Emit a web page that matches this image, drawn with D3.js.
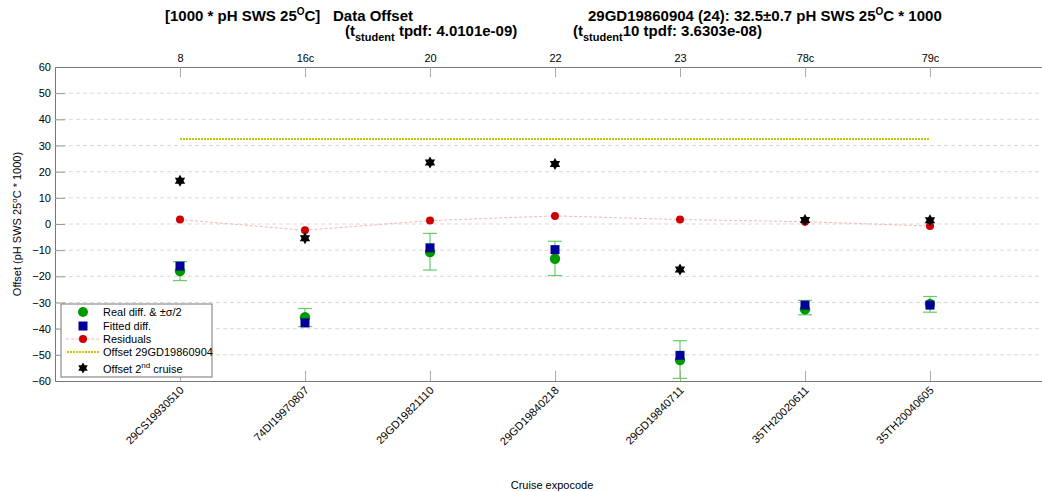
<!DOCTYPE html>
<meta charset="utf-8">
<style>
body { margin: 0; background: #fff; }
text { font-family: "Liberation Sans", Arial, sans-serif; fill: #000; }
.grid line { stroke: #d9d9d9; stroke-dasharray: 4,3; }
</style>
<svg width="1042" height="492"></svg>
<script src="https://d3js.org/d3.v7.min.js"></script>
<script>

var cruises = ["29CS19930510", "74DI19970807", "29GD19821110", "29GD19840218", "29GD19840711", "35TH20020611", "35TH20040605"];
var topLabels = ["8", "16c", "20", "22", "23", "78c", "79c"];
var realDiff = [-18, -35.6, -10.7, -13.3, -52, -32.6, -30.6];
var errLow = [-21.6, -39.2, -17.6, -19.7, -59, -34.7, -33.7];
var errHigh = [-14.4, -32.3, -3.6, -6.6, -44.6, -29.2, -27.7];
var fitted = [-16.1, -37.8, -9.1, -9.8, -50.2, -31, -31];
var residuals = [1.7, -2.4, 1.3, 3.1, 1.7, 0.9, -0.8];
var secondOffset = [16.5, -5.4, 23.5, 22.9, -17.4, 1.5, 1.4];
var offsetValue = 32.5;
var yTicks = [-60, -50, -40, -30, -20, -10, 0, 10, 20, 30, 40, 50, 60];

var svg = d3.select("svg");

var x = d3.scaleLinear().domain([0, 8]).range([55, 1055]);
var y = d3.scaleLinear().domain([-60, 60]).range([381, 67]);

var idx = d3.range(1, cruises.length + 1);

// grid
svg.append("g").attr("class", "grid")
  .selectAll("line")
  .data(yTicks.filter(function(d) { return d > -60 && d < 60; }))
  .enter().append("line")
    .attr("x1", x(0)).attr("x2", 1042)
    .attr("y1", function(d) { return y(d); })
    .attr("y2", function(d) { return y(d); });

// axes
var gl = svg.append("g").attr("transform", "translate(" + x(0) + ",0)")
  .call(d3.axisLeft(y).tickValues(yTicks).tickSizeInner(-10).tickSizeOuter(0).tickPadding(4));
gl.selectAll(".tick line").attr("stroke", "#999");
gl.selectAll("text").attr("font-size", 11).attr("x", -4);
gl.select(".domain").attr("stroke", "#777");

var gb = svg.append("g").attr("transform", "translate(0," + y(-60) + ")")
  .call(d3.axisBottom(x).tickValues(idx).tickSizeInner(-10).tickSizeOuter(0)
    .tickFormat(function(d) { return cruises[d - 1]; }));
gb.select(".domain").attr("stroke", "#777");
gb.selectAll(".tick line").attr("stroke", "#aaa");
gb.selectAll("text")
    .attr("font-size", 11)
    .attr("text-anchor", "end")
    .attr("y", 0).attr("dy", 0)
    .attr("transform", "translate(4,10) rotate(-45)");

var gt = svg.append("g").attr("transform", "translate(0," + y(60) + ")")
  .call(d3.axisTop(x).tickValues(idx).tickSizeInner(-10).tickSizeOuter(0).tickPadding(5)
    .tickFormat(function(d) { return topLabels[d - 1]; }));
gt.select(".domain").attr("stroke", "#777");
gt.selectAll(".tick line").attr("stroke", "#aaa");
gt.selectAll("text").attr("font-size", 11);

// offset line
svg.append("line")
    .attr("x1", x(1)).attr("x2", x(7))
    .attr("y1", y(offsetValue)).attr("y2", y(offsetValue))
    .attr("stroke", "#c8c800").attr("stroke-width", 2).attr("stroke-dasharray", "2,1");

// residual line
svg.append("path")
    .datum(residuals)
    .attr("fill", "none")
    .attr("stroke", "#f2b8b8")
    .attr("stroke-dasharray", "3,2")
    .attr("d", d3.line().x(function(d, i) { return x(i + 1); }).y(function(d) { return y(d); }));

// error bars
var eb = svg.append("g").selectAll("g").data(idx).enter().append("g")
    .attr("stroke", "#6c6").attr("stroke-width", 1.2);
eb.append("line")
    .attr("x1", function(d) { return x(d); }).attr("x2", function(d) { return x(d); })
    .attr("y1", function(d) { return y(errLow[d - 1]); })
    .attr("y2", function(d) { return y(errHigh[d - 1]); });
eb.append("line")
    .attr("x1", function(d) { return x(d) - 7; }).attr("x2", function(d) { return x(d) + 7; })
    .attr("y1", function(d) { return y(errLow[d - 1]); })
    .attr("y2", function(d) { return y(errLow[d - 1]); });
eb.append("line")
    .attr("x1", function(d) { return x(d) - 7; }).attr("x2", function(d) { return x(d) + 7; })
    .attr("y1", function(d) { return y(errHigh[d - 1]); })
    .attr("y2", function(d) { return y(errHigh[d - 1]); });

function hexagram(cx, cy, r) {
  var p1 = [], p2 = [];
  for (var k = 0; k < 3; k++) {
    var a1 = -Math.PI / 2 + k * 2 * Math.PI / 3;
    var a2 = Math.PI / 2 + k * 2 * Math.PI / 3;
    p1.push([cx + r * Math.cos(a1), cy + r * Math.sin(a1)]);
    p2.push([cx + r * Math.cos(a2), cy + r * Math.sin(a2)]);
  }
  return "M" + p1.join("L") + "Z M" + p2.join("L") + "Z";
}

// real diff
svg.append("g").selectAll("circle").data(realDiff).enter().append("circle")
    .attr("cx", function(d, i) { return x(i + 1); })
    .attr("cy", function(d) { return y(d); })
    .attr("r", 5.2).attr("fill", "#009900");

// fitted
svg.append("g").selectAll("rect").data(fitted).enter().append("rect")
    .attr("x", function(d, i) { return x(i + 1) - 4.5; })
    .attr("y", function(d) { return y(d) - 4.5; })
    .attr("width", 9).attr("height", 9).attr("fill", "#000099");

// residuals
svg.append("g").selectAll("circle").data(residuals).enter().append("circle")
    .attr("cx", function(d, i) { return x(i + 1); })
    .attr("cy", function(d) { return y(d); })
    .attr("r", 4).attr("fill", "#cc0000");

// second cruise offset
svg.append("g").selectAll("path").data(secondOffset).enter().append("path")
    .attr("d", function(d, i) { return hexagram(x(i + 1), y(d), 6); })
    .attr("fill", "#000");

// legend
var lg = svg.append("g").attr("transform", "translate(61,304)");
lg.append("rect").attr("width", 151).attr("height", 73)
    .attr("fill", "#fff").attr("stroke", "#777");
var ly = [8, 22, 35, 48, 64];
lg.append("circle").attr("cx", 22).attr("cy", ly[0]).attr("r", 5).attr("fill", "#009900");
lg.append("rect").attr("x", 17.5).attr("y", ly[1] - 4.5).attr("width", 9).attr("height", 9).attr("fill", "#000099");
lg.append("line").attr("x1", 5).attr("x2", 38).attr("y1", ly[2]).attr("y2", ly[2])
    .attr("stroke", "#f2b8b8").attr("stroke-dasharray", "3,2");
lg.append("circle").attr("cx", 22).attr("cy", ly[2]).attr("r", 4).attr("fill", "#cc0000");
lg.append("line").attr("x1", 6).attr("x2", 38).attr("y1", ly[3]).attr("y2", ly[3])
    .attr("stroke", "#c8c800").attr("stroke-width", 2).attr("stroke-dasharray", "2,1");
lg.append("path").attr("d", hexagram(22, ly[4], 5.5)).attr("fill", "#000");
lg.selectAll("text.lbl").data(["Real diff. & \u00b1\u03c3/2", "Fitted diff.", "Residuals", "Offset 29GD19860904"])
  .enter().append("text")
    .attr("x", 42).attr("y", function(d, i) { return ly[i] + 4; })
    .attr("font-size", 11).text(function(d) { return d; });
var l5 = lg.append("text").attr("x", 42).attr("y", ly[4] + 5).attr("font-size", 11);
l5.append("tspan").text("Offset 2");
l5.append("tspan").attr("dy", -5).attr("font-size", 8).text("nd");
l5.append("tspan").attr("dy", 5).text(" cruise");

// y label
var yl = svg.append("text")
    .attr("transform", "translate(21," + y(0) + ") rotate(-90)")
    .attr("text-anchor", "middle").attr("font-size", 11);
yl.append("tspan").text("Offset (pH SWS 25");
yl.append("tspan").attr("dy", -4).attr("font-size", 8).text("o");
yl.append("tspan").attr("dy", 4).text("C * 1000)");

// x label
svg.append("text").attr("x", 552).attr("y", 489).attr("text-anchor", "middle")
    .attr("font-size", 11).text("Cruise expocode");

// titles
var t1 = svg.append("text").attr("x", 165).attr("y", 21).attr("font-size", 15).attr("font-weight", "bold");
t1.append("tspan").text("[1000 * pH SWS 25");
t1.append("tspan").attr("dy", -6).attr("font-size", 10).text("O");
t1.append("tspan").attr("dy", 6).text("C]");
svg.append("text").attr("x", 333).attr("y", 21).attr("font-size", 15).attr("font-weight", "bold")
    .text("Data Offset");

var t2 = svg.append("text").attr("x", 345).attr("y", 36).attr("font-size", 15).attr("font-weight", "bold");
t2.append("tspan").text("(t");
t2.append("tspan").attr("dy", 5).attr("font-size", 11).text("student");
t2.append("tspan").attr("dy", -5).text(" tpdf: 4.0101e-09)");

var t3 = svg.append("text").attr("x", 588).attr("y", 21).attr("font-size", 15).attr("font-weight", "bold");
t3.append("tspan").text("29GD19860904 (24): 32.5\u00b10.7 pH SWS 25");
t3.append("tspan").attr("dy", -6).attr("font-size", 10).text("O");
t3.append("tspan").attr("dy", 6).text("C * 1000");

var t4 = svg.append("text").attr("x", 573).attr("y", 36).attr("font-size", 15).attr("font-weight", "bold");
t4.append("tspan").text("(t");
t4.append("tspan").attr("dy", 5).attr("font-size", 11).text("student");
t4.append("tspan").attr("dy", -5).text("10 tpdf: 3.6303e-08)");

</script>
